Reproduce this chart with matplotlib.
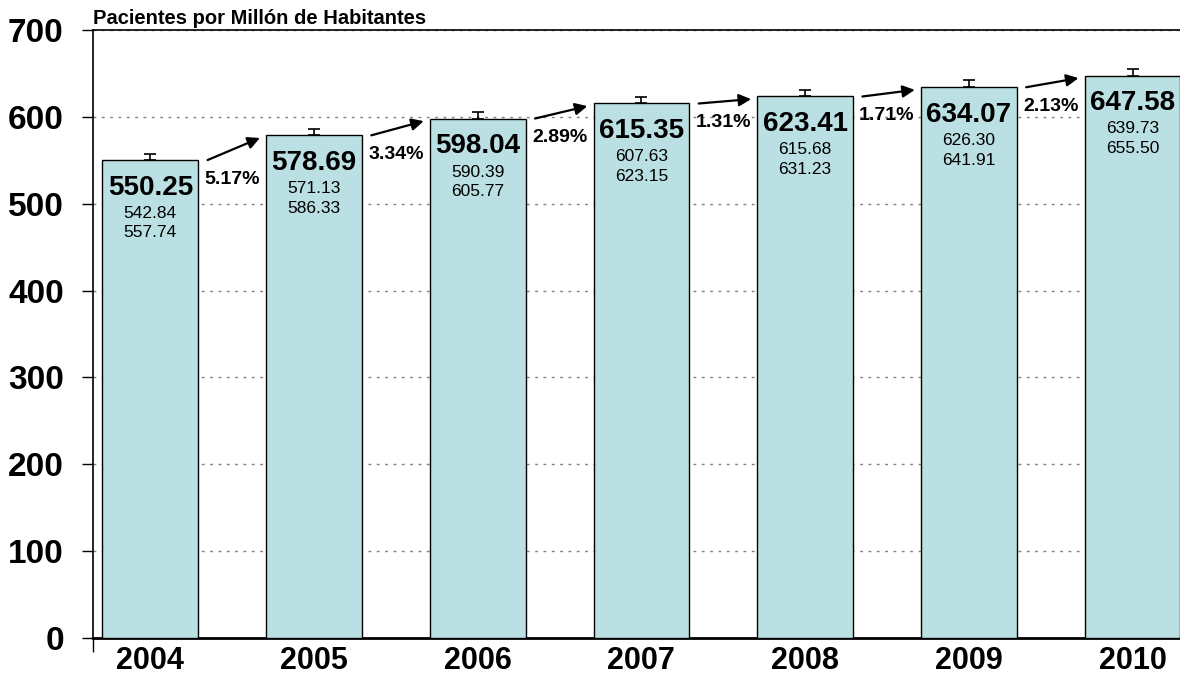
import matplotlib
matplotlib.use("Agg")
import matplotlib.pyplot as plt
from matplotlib.ticker import FixedLocator

# patients per million inhabitants, with 95% confidence limits
years = ['2004', '2005', '2006', '2007', '2008', '2009', '2010']
rate = [550.25, 578.69, 598.04, 615.35, 623.41, 634.07, 647.58]
ci_low = [542.84, 571.13, 590.39, 607.63, 615.68, 626.30, 639.73]
ci_high = [557.74, 586.33, 605.77, 623.15, 631.23, 641.91, 655.50]
growth = ['5.17%', '3.34%', '2.89%', '1.31%', '1.71%', '2.13%']
yticks = [0, 100, 200, 300, 400, 500, 600, 700]

plt.rcParams['font.family'] = ['Liberation Sans', 'DejaVu Sans']

fig = plt.figure(figsize=(11.8, 6.75), dpi=100)
ax = fig.add_axes([0.0788, 0.0548, 0.9212, 0.9008])

x = list(range(len(years)))
ax.bar(x, rate, width=0.585, color='#BBE0E3', edgecolor='black',
       linewidth=1.0, zorder=3)

# upper error bar only (to the top of the interval)
yerr = [[0] * len(rate), [h - r for h, r in zip(ci_high, rate)]]
ax.errorbar(x, rate, yerr=yerr, fmt='none', ecolor='black', elinewidth=1.2,
            capsize=4, capthick=1.2, zorder=2)

for i in x:
    ax.annotate(f'{rate[i]:.2f}', (i, rate[i]), xytext=(0, -20),
                textcoords='offset points', ha='center', va='center',
                fontsize=20, fontweight='bold', zorder=5)
    ax.annotate(f'{ci_low[i]:.2f}', (i, rate[i]), xytext=(0, -38.5),
                textcoords='offset points', ha='center', va='center',
                fontsize=12.5, zorder=5)
    ax.annotate(f'{ci_high[i]:.2f}', (i, rate[i]), xytext=(0, -52.5),
                textcoords='offset points', ha='center', va='center',
                fontsize=12.5, zorder=5)

# year-on-year growth arrows and labels
for i, g in enumerate(growth):
    ax.annotate('', xy=(i + 0.67, rate[i + 1] - 3), xytext=(i + 0.35, rate[i]),
                arrowprops=dict(arrowstyle='-|>', color='black', lw=1.6,
                                mutation_scale=18, shrinkA=0, shrinkB=0),
                zorder=6)
    ax.text(i + 0.5, rate[i] - 22, g, ha='center', va='center',
            fontsize=14, fontweight='bold', zorder=6)

ax.set_xlim(-0.35, 6.29)
ax.set_ylim(0, 700)
ax.set_yticks(yticks)
ax.set_yticklabels([str(t) for t in yticks], fontsize=24, fontweight='bold')
ax.set_xticks(x)
ax.set_xticklabels(years, fontsize=22, fontweight='bold')
ax.tick_params(axis='x', length=0, pad=6)
ax.tick_params(axis='y', direction='out', length=8, width=1, pad=13)
# small tick below the origin
ax.xaxis.set_minor_locator(FixedLocator([-0.35]))
ax.tick_params(axis='x', which='minor', direction='out', length=10, width=1)

ax.grid(axis='y', color='#808080', linestyle=(0, (2, 4)), linewidth=1.0,
        zorder=0)
ax.set_axisbelow(True)

ax.spines['right'].set_visible(False)
ax.spines['left'].set_linewidth(1.2)
ax.spines['top'].set_linewidth(1.2)
ax.spines['bottom'].set_linewidth(2.0)

ax.text(0.0, 1.003, 'Pacientes por Millón de Habitantes', transform=ax.transAxes,
        ha='left', va='bottom', fontsize=14.5, fontweight='bold')

fig.savefig('out.png', dpi=100)
